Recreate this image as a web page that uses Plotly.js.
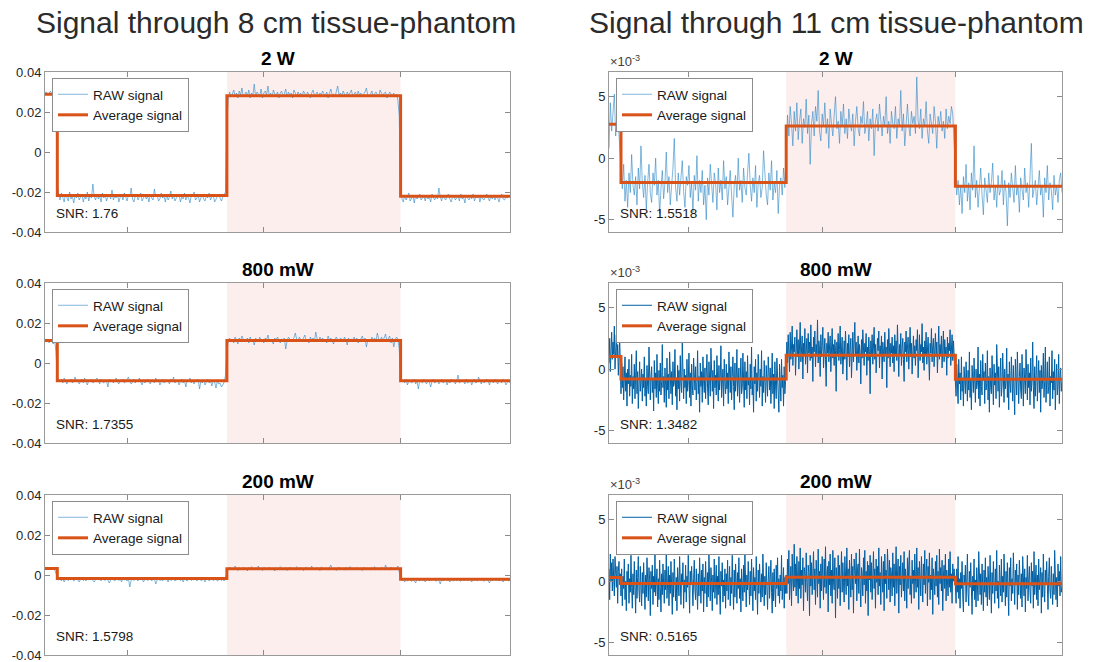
<!DOCTYPE html>
<html><head><meta charset="utf-8">
<script src="https://cdn.plot.ly/plotly-3.0.1.min.js"></script>
<style>html,body{margin:0;padding:0;background:#fff}#chart{width:1099px;height:662px}</style>
</head><body><div id="chart"></div>
<script>
// ---------------- DATA ----------------
const SCALE = 1e-4; // raw arrays are stored in units of 1e-4
const stepX = [0, 0.9, 13.3, 26, 34];
const xTicks = [6, 16, 26];
const shadeX = [13.3, 26];
const columnTitles = ['Signal through 8 cm tissue-phantom', 'Signal through 11 cm tissue-phantom'];
const powerLabels = ['2 W', '800 mW', '200 mW'];
const snr8 = ['1.76', '1.7355', '1.5798'];
const snr11 = ['1.5518', '1.3482', '0.5165'];
const yTicks8 = [-0.04, -0.02, 0, 0.02, 0.04];
const yTickText8 = ['-0.04', '-0.02', '0', '0.02', '0.04'];
const yTicks11 = [-0.005, 0, 0.005];
const yTickText11 = ['-5', '0', '5'];

const avg8_2W = [0.0289, -0.0218, 0.0281, -0.0221];
const avg8_800 = [0.0112, -0.0089, 0.0113, -0.0089];
const avg8_200 = [0.0032, -0.0018, 0.0031, -0.0021];
const avg11_2W = [0.00276, -0.00197, 0.00262, -0.00228];
const avg11_800 = [0.00103, -0.00079, 0.00112, -0.00082];
const avg11_200 = [0.00029, -0.00019, 0.00032, -0.00021];

const raw8_2W = [
295,300,288,292,305,290,286,298,270,
-150,-215,-240,-205,-230,-250,-210,-225,-245,-200,
-235,-220,-255,-215,-230,-205,-240,-225,-210,-250,
-220,-235,-200,-245,-215,-230,-160,-225,-240,-210,
-235,-220,-250,-205,-230,-215,-245,-225,-210,-235,
-190,-240,-220,-230,-210,-250,-225,-215,-240,-205,
-230,-245,-215,-225,-180,-235,-250,-220,-210,-240,
-225,-205,-245,-230,-215,-235,-220,-250,-210,-230,
-240,-185,-225,-215,-245,-235,-205,-230,-220,-250,
-210,-240,-225,-195,-235,-215,-245,-230,-220,-210,
-250,-225,-235,-205,-240,-220,-230,-255,-215,-225,
-200,-240,-230,-215,-250,-225,-210,-235,-245,-220,
-230,-205,-240,-225,-215,-250,-235,-220,-210,-230,
-245,-225,-215,-200,
150,265,300,275,290,310,280,295,270,305,
285,320,275,290,300,280,310,270,295,285,
340,275,300,290,280,315,270,295,305,285,
330,280,295,275,310,290,285,300,270,295,
305,280,290,315,275,300,285,295,270,310,
290,280,300,285,295,275,305,290,280,300,
285,270,295,310,280,290,300,275,295,285,
305,290,280,300,270,295,315,285,290,275,
300,330,285,295,280,305,290,275,300,285,
295,310,280,290,300,275,305,285,295,280,
290,300,320,285,275,295,305,280,290,300,
285,275,310,290,280,295,300,270,285,300,
290,280,295,275,290,260,180,
-180,-235,-250,-215,-240,-225,-205,-245,-230,-220,
-255,-215,-235,-225,-210,-240,-230,-220,-245,-215,
-235,-225,-250,-210,-230,-240,-220,-235,-180,-225,
-245,-215,-230,-240,-220,-210,-235,-250,-225,-215,
-240,-230,-220,-245,-210,-235,-225,-255,-215,-230,
-240,-220,-235,-210,-245,-225,-230,-215,-250,-220,
-235,-240,-225,-210,-230,-245,-220,-235,-215,-240,
-225,-230,-250,-220,-210,-235,-240,-225,-230,-215,
-225];

const raw8_800 = [
110,105,118,100,112,108,95,115,60,
-70,-85,-95,-80,-100,-75,-90,-105,-85,-95,
-80,-100,-90,-70,-95,-85,-105,-90,-80,-100,
-75,-95,-110,-85,-90,-80,-100,-95,-85,-75,
-90,-105,-80,-95,-100,-85,-90,-120,-80,-95,
-85,-100,-90,-75,-95,-105,-85,-90,-80,-100,
-95,-85,-70,-90,-105,-95,-80,-100,-85,-90,
-75,-95,-110,-85,-100,-90,-80,-95,-105,-85,
-90,-100,-75,-95,-85,-110,-90,-80,-100,-95,
-85,-90,-105,-80,-95,-70,-100,-90,-85,-110,
-95,-80,-100,-90,-120,-85,-95,-75,-100,-90,
-105,-85,-95,-80,-130,-90,-100,-85,-110,-95,
-80,-100,-90,-115,-85,-95,-125,-90,-105,-100,
-120,-110,-95,-60,
60,110,125,105,120,100,130,115,95,125,
110,135,120,105,115,125,100,130,110,120,
90,125,115,105,130,110,120,100,125,115,
140,110,120,105,95,125,115,130,110,100,
120,115,125,70,110,130,120,105,115,125,
150,120,110,130,115,105,125,140,110,120,
100,130,115,125,110,155,120,105,130,115,
125,110,120,100,135,115,125,110,95,120,
130,115,105,125,120,110,130,115,90,125,
105,120,115,130,110,125,100,115,120,135,
110,125,80,115,120,105,130,115,125,110,
150,120,105,130,115,125,145,110,120,135,
100,125,80,115,130,120,70,
-60,-95,-85,-100,-80,-110,-90,-85,-100,-95,
-80,-105,-90,-130,-85,-95,-100,-80,-90,-105,
-85,-95,-120,-90,-80,-100,-95,-85,-105,-90,
-80,-100,-95,-85,-110,-90,-100,-80,-95,-85,
-105,-90,-60,-100,-95,-85,-90,-105,-80,-100,
-95,-85,-110,-90,-80,-100,-95,-70,-90,-105,
-85,-100,-95,-80,-90,-110,-85,-95,-100,-80,
-90,-105,-85,-95,-100,-80,-90,-110,-95,-85,
-100];

const raw8_200 = [
30,35,25,32,28,38,30,26,10,
-15,-25,-20,-30,-18,-35,-22,-10,-28,-20,
-25,-15,-30,-22,-18,-25,-35,-20,-12,-28,
-22,-30,-18,-25,-20,-15,-28,-35,-22,-18,
-25,-20,-30,-15,-22,-28,-18,-25,-40,-20,
-10,-25,-30,-22,-18,-28,-20,-35,-15,-25,
-22,-30,-18,-60,-25,-20,-28,-15,-22,-30,
-18,-25,-20,-35,-22,-12,-28,-25,-18,-30,
-22,-20,-45,-25,-15,-28,-22,-30,-18,-25,
-20,-35,-10,-28,-22,-18,-30,-25,-20,-15,
-28,-22,-35,-18,-25,-30,-20,-12,-28,-22,
-25,-18,-30,-20,-15,-28,-25,-22,-35,-18,
-20,-30,-25,-15,-28,-22,-18,-30,-25,-20,
-28,-22,-30,-10,
15,30,40,25,35,28,45,30,22,38,
32,25,40,30,35,20,38,28,42,30,
25,35,32,45,28,30,22,38,35,30,
28,40,25,32,36,20,38,30,28,42,
35,25,30,38,22,32,40,28,35,30,
25,42,32,28,38,30,22,35,40,28,
32,30,45,25,35,28,38,30,22,40,
32,28,35,30,25,38,50,30,28,35,
22,32,40,28,35,30,25,38,32,28,
42,30,35,25,32,38,28,30,35,22,
40,30,28,35,32,25,38,30,42,28,
35,30,25,38,32,28,50,35,30,25,
40,32,28,35,30,45,10,
-15,-28,-22,-35,-20,-30,-25,-18,-32,-22,
-28,-40,-20,-25,-30,-18,-28,-22,-35,-25,
-20,-30,-22,-28,-18,-25,-32,-20,-28,-45,
-22,-30,-25,-18,-28,-22,-35,-20,-25,-30,
-18,-28,-22,-25,-32,-20,-28,-25,-22,-30,
-18,-25,-35,-20,-28,-22,-30,-25,-18,-28,
-22,-32,-20,-25,-28,-40,-22,-30,-18,-25,
-28,-22,-30,-20,-25,-35,-22,-28,-18,-30,
-25];

const raw11_2W = [
8,45,22,38,52,18,35,28,10,
-10,-25,-5,-35,-18,-40,-12,-28,3,-22,
-30,-15,-38,-8,-25,10,-20,-32,-14,-42,
-20,-5,-28,-36,-12,-22,0,-30,-18,-45,
-25,-10,-33,-20,5,-28,-15,-38,-22,-8,
16,-24,-35,-12,-30,-18,-2,-27,-40,-15,
-22,-6,-32,-20,-44,-14,-26,2,-35,-18,
-28,-10,-38,-22,-50,-16,-30,-5,-24,-36,
-12,-20,-42,-8,-28,-18,-34,-2,-25,-15,
-38,-20,-10,-30,-48,-22,-14,-32,0,-26,
-18,-36,-8,-24,-30,-12,4,-22,-35,-16,
-28,-6,-40,-20,-14,-32,-24,6,-18,-30,
-38,-12,-26,-2,-34,-20,-28,-10,-45,-22,
-16,-30,-8,-24,
5,35,18,42,28,10,38,22,45,15,
30,40,12,32,25,48,20,35,-5,28,
38,18,42,30,55,22,14,36,26,45,
20,32,8,40,28,18,35,50,24,30,
12,38,26,44,20,32,16,40,28,22,
36,10,30,42,24,18,34,28,46,20,
26,38,14,32,24,40,2,30,36,22,
44,28,18,34,26,50,20,30,12,38,
28,24,42,16,32,26,55,22,36,10,
30,44,26,18,38,28,34,20,66,30,
24,40,16,32,26,46,22,12,36,28,
20,42,30,8,34,26,38,22,30,16,
40,24,34,28,42,36,5,
-10,-30,-18,-38,-22,-45,-15,-28,-5,-35,
-20,-42,-12,-26,10,-32,-18,-40,-24,-8,
-30,-46,-16,-25,-36,-12,-28,-20,-4,-34,
-22,-40,-14,-30,-26,-10,-38,-18,-28,-55,
-20,-32,-12,-24,-36,-6,-30,-22,-44,-16,
-26,-34,-8,-28,-20,-40,-14,12,-32,-24,
-18,-38,-26,-10,-30,-22,-48,-16,-28,-6,
-34,-20,-26,-42,-14,-30,-22,-36,-18,-12,
-28];

const raw11_800 = [
5,25,-2,18,30,8,22,12,35,0,15,28,10,20,-5,14,24,6,
-20,5,-15,2,-25,-8,10,-18,-3,-30,0,-12,8,-22,-5,-14,
12,-28,-6,-16,4,-24,-10,15,-20,-2,-32,-8,6,-18,-12,0,
-26,-4,-15,10,-22,-9,-30,3,-14,-20,18,-11,-25,-6,2,-19,
-8,-34,7,-16,-3,-23,12,-12,-28,-1,-18,5,-21,-10,20,-15,
-6,-27,1,-13,-31,9,-17,-4,-24,14,-9,-20,-2,-29,6,-14,
-11,16,-22,-7,-33,3,-16,-1,-26,11,-12,-19,22,-8,-24,0,
-15,-5,-28,8,-18,-10,13,-23,-3,-30,4,-13,-21,9,-7,-17,
2,-25,-11,15,-20,-6,-35,5,-14,-2,-27,10,-9,-19,1,-24,
-4,12,-16,-29,6,-12,-22,17,-8,-18,-1,-32,7,-15,-5,-21,
11,-10,-26,3,-17,-7,19,-23,-13,0,-30,8,-11,-20,4,-16,
-3,-28,14,-9,-19,2,-25,-6,10,-14,-33,5,-18,-8,16,-22,
-12,1,-27,-4,9,-20,-15,13,-10,-31,6,-17,-2,-24,11,-13,
-7,-29,4,-16,18,-21,-9,-35,2,-12,8,-26,-3,-18,12,-11,
-23,0,-14,15,-30,-6,-19,7,-10,-27,3,-15,-22,10,-5,-17,
1,-28,-9,13,-20,-4,-32,6,-13,-24,9,-8,-18,-35,4,-12,
-26,8,-15,-5,-30,2,-20,-10,
0,22,5,28,12,-2,30,8,18,35,3,20,14,26,-5,16,
32,10,24,0,19,38,6,15,27,-8,21,11,33,4,17,25,
-3,29,13,22,7,36,9,18,-10,26,14,31,2,20,12,40,
5,23,16,-6,28,10,19,34,1,15,25,8,-14,21,13,30,
6,18,27,-2,12,33,9,20,3,24,15,-18,22,11,29,7,
16,35,4,19,26,-4,13,23,8,31,14,-9,21,10,28,2,
17,25,-7,12,30,6,19,38,11,22,-1,15,27,5,20,13,
-12,24,9,32,16,3,21,14,29,-5,18,7,26,12,-20,23,
10,28,4,17,34,8,20,-3,13,25,15,31,1,19,11,27,
-8,22,14,6,30,12,18,-15,24,9,33,16,2,21,13,26,
5,19,-2,28,11,23,7,36,15,-6,20,12,29,3,17,25,
8,-10,22,14,31,6,18,26,0,16,34,10,21,-4,13,27,
9,19,3,24,15,32,-7,12,28,7,20,14,37,5,18,-1,
23,11,30,4,16,26,9,-9,21,13,33,6,19,25,2,15,
29,10,22,-3,17,35,8,20,12,27,1,14,31,6,24,11,
18,-5,26,9,21,15,32,3,19,28,7,23,12,2,
-5,-22,4,-15,-28,8,-12,-3,-25,10,-18,-7,-30,2,-14,-20,
6,-10,-26,-1,-17,14,-23,-8,-33,3,-13,-19,9,-6,-27,0,
-16,-11,18,-24,-4,-30,7,-14,-21,12,-9,-2,-28,5,-17,-12,
15,-25,-6,-35,1,-15,-20,11,-8,-29,4,-13,-3,-24,20,-10,
-18,2,-31,-7,9,-22,-14,13,-5,-27,0,-16,-11,17,-23,-4,
-33,6,-12,-19,10,-8,-26,3,-15,-37,8,-10,-21,14,-2,-28,
-6,5,-17,-24,12,-11,-30,1,-13,-20,16,-7,-25,4,-15,-3,
-29,9,-18,-9,22,-14,-32,2,-22,-5,11,-26,-12,7,-19,-1,
-35,3,-16,-8,13,-23,-10,18,-27,-4,6,-20,-14,10,-30,-6,
-11,15,-24,-2,-17,8,-33,-9,4,-21,-13,12,-28,-5,1,-18,
-10];

const raw11_200 = [
10,-15,22,0,15,-8,18,5,-12,20,2,-5,12,-18,8,16,-3,6,
-12,10,-20,4,-6,18,-15,0,-24,8,-3,14,-18,2,-9,21,
-5,-22,6,-11,16,-1,-26,9,-14,3,20,-8,-17,12,-4,-20,
7,-10,15,-2,-23,5,-13,19,-7,-16,11,1,-28,8,-6,13,
-19,4,-9,22,-12,-3,10,-21,2,-15,17,-5,-25,6,-11,14,
0,-18,9,-7,23,-14,-2,12,-20,5,-10,16,-4,-27,7,-13,
18,-6,-16,3,-24,11,-1,-12,20,-8,-19,6,-3,15,-22,1,
-9,13,-17,4,-5,21,-14,-26,8,-2,12,-11,-20,2,17,-7,
-15,10,-4,-23,6,-12,19,-1,-18,9,-8,14,-25,3,-10,16,
-3,-21,7,-13,22,-6,-16,11,0,-24,5,-9,18,-14,-2,13,
-19,4,-11,20,-7,-27,8,-4,15,-17,1,-12,10,-22,6,-8,
17,-15,-1,12,-20,3,-10,21,-5,-23,9,-13,14,-2,-18,7,
-6,19,-14,2,-25,10,-3,-16,13,-9,23,-11,-21,5,-7,16,
-1,-19,8,-12,18,-4,-24,11,-8,3,-15,20,-6,-27,9,-10,
14,-2,-17,6,-13,22,-5,-20,4,-11,15,-8,-23,1,12,-14,
-3,17,-9,-26,7,-16,10,-1,-21,13,-6,19,-12,2,-18,5,
-8,21,-15,-4,11,-22,3,-10,
5,-10,18,-2,25,-15,8,12,-20,22,0,-8,30,-5,14,-12,
20,3,-18,16,-6,27,-14,9,-3,19,-24,11,6,-9,23,-1,
-16,13,7,-28,21,-4,15,-11,2,24,-7,10,-19,17,4,-13,
26,-2,8,-22,14,-8,20,1,-15,18,-5,28,-10,6,12,-25,
16,-3,22,-12,9,-18,25,0,-7,19,-30,11,4,-14,21,-6,
13,-20,7,24,-9,15,-1,-17,20,3,-11,27,-4,10,-23,17,
2,-13,22,-7,12,-26,18,5,-2,23,-16,9,14,-10,26,-5,
-21,11,6,-12,19,-3,25,-18,8,-8,16,-28,13,1,21,-9,
15,-15,4,24,-6,10,-22,18,-1,12,-11,27,-4,7,-19,20,
3,-9,16,-24,22,-2,9,-14,26,0,-7,17,-17,11,5,-12,
23,-5,14,-20,8,28,-10,2,18,-26,12,-3,21,-13,6,15,
-8,24,-16,10,1,-22,19,-6,13,25,-11,4,-18,17,-2,9,
-14,22,3,-9,27,-5,11,-23,16,0,-12,20,6,-17,14,-3,
25,-10,7,18,-20,12,-1,23,-15,5,-7,19,-27,10,2,-11,
16,-4,21,-13,8,-19,26,-2,11,-8,17,-24,4,13,-6,22,
-16,9,1,-12,18,-5,24,-9,6,-18,14,0,10,4,
-4,-18,10,-9,20,-14,2,-22,7,-6,16,-12,-25,5,-3,13,
-17,0,22,-10,-20,8,-5,15,-13,-27,4,-8,18,-15,1,-21,
11,-7,-16,24,-2,-11,6,-19,14,-4,-24,9,-9,19,-13,3,
-20,12,-6,-15,21,-1,-26,7,-10,16,-3,-18,10,-8,25,-14,
0,-22,13,-5,-12,18,-17,4,-9,22,-2,-20,8,-13,15,-6,
-28,11,-4,19,-16,2,-10,23,-7,-19,9,-1,14,-23,5,-11,
17,-8,-14,6,-21,20,-3,-12,10,-25,3,-6,21,-16,1,12,
-9,-18,15,-4,8,-22,24,-11,-2,13,-15,5,-20,18,-7,-1,
11,-26,7,-13,22,-5,-17,9,-3,16,-10,-23,4,19,-8,-14,
12,-2,-19,6,-11,25,-6,-15,3,-21,14,-4,8,-12,20,-9,
-5];

// ---------------- LAYOUT GEOMETRY (px) ----------------
const W = 1099, H = 662;
const colPx = [[45, 510], [609, 1062]];
const rowTop = [72, 283, 495];
const rowH = 160;
const fx = p => p / W;
const fy = p => 1 - p / H;

const panels = [
  {col:0,row:0,raw:raw8_2W,avg:avg8_2W,snr:snr8[0]},
  {col:1,row:0,raw:raw11_2W,avg:avg11_2W,snr:snr11[0]},
  {col:0,row:1,raw:raw8_800,avg:avg8_800,snr:snr8[1]},
  {col:1,row:1,raw:raw11_800,avg:avg11_800,snr:snr11[1]},
  {col:0,row:2,raw:raw8_200,avg:avg8_200,snr:snr8[2]},
  {col:1,row:2,raw:raw11_200,avg:avg11_200,snr:snr11[2]}
];

const FONT = 'Liberation Sans, Arial, Helvetica, sans-serif';
const traces = [], shapes = [], annotations = [];
const layout = {
  width: W, height: H, autosize: false,
  margin: {l:0, r:0, t:0, b:0},
  paper_bgcolor: '#ffffff', plot_bgcolor: '#ffffff',
  font: {family: FONT, color: '#262626'},
  showlegend: true
};

panels.forEach((p, i) => {
  const n = i + 1;
  const ax = n === 1 ? '' : String(n);
  const N = p.raw.length;
  const xs = p.raw.map((_, k) => k * 34 / (N - 1));
  const ys = p.raw.map(v => v * SCALE);
  const legName = n === 1 ? 'legend' : 'legend' + n;
  const dense = p.col === 1 && p.row > 0;
  traces.push({
    type: 'scatter', mode: 'lines', x: xs, y: ys,
    xaxis: 'x' + ax, yaxis: 'y' + ax, name: 'RAW signal', legend: legName,
    line: {color: dense ? '#005fa3' : '#2b86c4', width: dense ? 1.0 : 0.6},
    hoverinfo: 'skip'
  });
  traces.push({
    type: 'scatter', mode: 'lines', x: stepX,
    y: [p.avg[0], p.avg[1], p.avg[2], p.avg[3], p.avg[3]],
    xaxis: 'x' + ax, yaxis: 'y' + ax, name: 'Average signal', legend: legName,
    line: {color: '#D95319', width: 3, shape: 'hv'},
    hoverinfo: 'skip'
  });
  const [x0, x1] = colPx[p.col];
  const top = rowTop[p.row], bot = top + rowH;
  layout['xaxis' + ax] = {
    domain: [fx(x0), fx(x1)], anchor: 'y' + ax, range: [0, 34],
    tickvals: xTicks, showticklabels: false, ticks: 'inside', ticklen: 5,
    tickcolor: '#8a8a8a', showline: true, linecolor: '#9a9a9a', linewidth: 1,
    mirror: 'ticks', showgrid: false, zeroline: false, fixedrange: true
  };
  layout['yaxis' + ax] = {
    domain: [fy(bot), fy(top)], anchor: 'x' + ax,
    range: p.col === 0 ? [-0.04, 0.04] : [-0.006, 0.007],
    tickvals: p.col === 0 ? yTicks8 : yTicks11,
    ticktext: p.col === 0 ? yTickText8 : yTickText11,
    tickfont: {size: 13, color: '#262626', family: FONT},
    ticklabeloverflow: 'allow',
    ticks: 'inside', ticklen: 5, tickcolor: '#8a8a8a',
    showline: true, linecolor: '#9a9a9a', linewidth: 1, mirror: 'ticks',
    showgrid: false, zeroline: false, fixedrange: true
  };
  shapes.push({
    type: 'rect', xref: 'x' + ax, yref: 'y' + ax + ' domain',
    x0: shadeX[0], x1: shadeX[1], y0: 0, y1: 1,
    fillcolor: '#fdeeee', line: {width: 0}, layer: 'below'
  });
  layout[legName] = {
    x: fx(x0 + 7), y: fy(top + 6), xanchor: 'left', yanchor: 'top',
    bgcolor: '#ffffff', bordercolor: '#8c8c8c', borderwidth: 1,
    font: {size: 13.5, color: '#1a1a1a', family: FONT},
    tracegroupgap: 0, itemwidth: 30
  };
  annotations.push({
    text: powerLabels[p.row], xref: 'paper', yref: 'paper',
    x: fx((x0 + x1) / 2), y: fy(top - 14), xanchor: 'center', yanchor: 'middle',
    showarrow: false, font: {size: 19, color: '#000000', family: FONT, weight: 'bold'}
  });
  annotations.push({
    text: 'SNR: ' + p.snr, xref: 'paper', yref: 'paper',
    x: fx(x0 + 9), y: fy(top + 141), xanchor: 'left', yanchor: 'middle',
    showarrow: false, font: {size: 13.5, color: '#1a1a1a', family: FONT}
  });
  if (p.col === 1) {
    annotations.push({
      text: '×10<sup>-3</sup>', xref: 'paper', yref: 'paper',
      x: fx(x0 - 1), y: fy(top - 1), xanchor: 'left', yanchor: 'bottom',
      showarrow: false, font: {size: 13, color: '#404040', family: FONT}
    });
  }
});

columnTitles.forEach((t, c) => {
  annotations.push({
    text: t, xref: 'paper', yref: 'paper',
    x: fx(c === 0 ? 276 : 836), y: fy(22), xanchor: 'center', yanchor: 'middle',
    showarrow: false, font: {size: 30, color: '#2b2b2b', family: FONT}
  });
});

layout.shapes = shapes;
layout.annotations = annotations;

Plotly.newPlot('chart', traces, layout, {displayModeBar: false, staticPlot: true});
</script>
</body></html>
